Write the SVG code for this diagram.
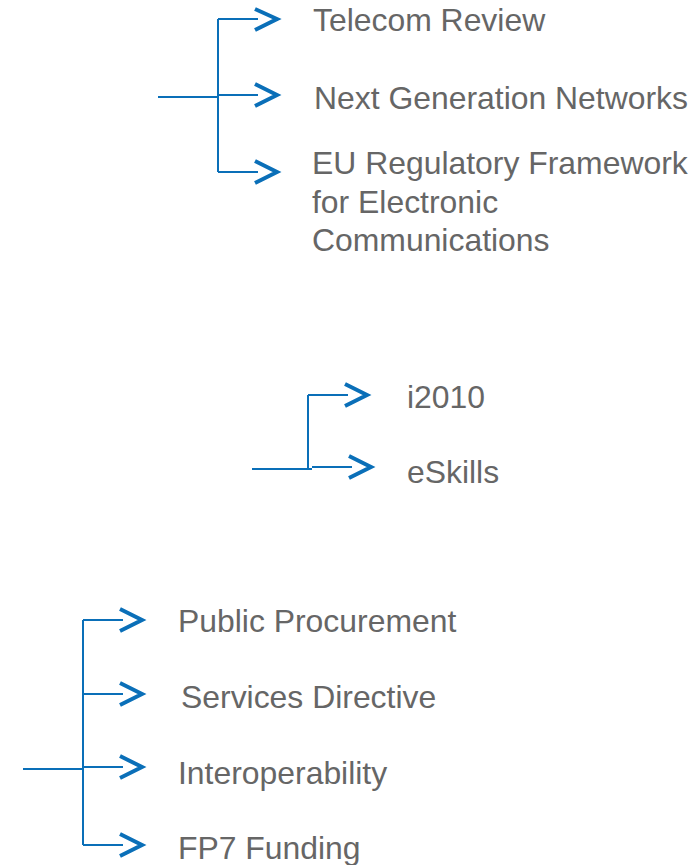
<svg xmlns="http://www.w3.org/2000/svg" width="699" height="865" viewBox="0 0 699 865">
<style>
.ln{fill:none;stroke:#0a6fb8;stroke-width:2}
.ch{fill:none;stroke:#0a6fb8;stroke-width:4;stroke-linecap:butt;stroke-linejoin:miter}
.t{font-family:"Liberation Sans",Arial,sans-serif;font-size:31.9px;fill:#666666}
</style>
<rect width="699" height="865" fill="#ffffff"/>
<g id="connectors">
<path class="ln" d="M158 97H218M218 19V172M218 19H258M218 95H258M218 172H258"/>
<path class="ch" d="M255 9L277 19L255 30M255 84L277 95L255 106M255 161L277 172L255 183"/>
<path class="ln" d="M252 469H312M308 395V469M308 395H348M312 467H352"/>
<path class="ch" d="M345 384L367 395L345 406M349 456L371 467L349 478"/>
<path class="ln" d="M23 769H83M83 620V845M83 620H123M83 694H123M83 767H123M83 845H123"/>
<path class="ch" d="M120 609L142 620L120 631M120 683L142 694L120 705M120 756L142 767L120 778M120 834L142 845L120 856"/>
</g>
<g id="telecom-review"><text class="t" x="313" y="31">Telecom Review</text></g>
<g id="next-generation-networks"><text class="t" x="314" y="109">Next Generation Networks</text></g>
<g id="eu-regulatory-framework"><text class="t" x="312" y="174">EU Regulatory Framework</text><text class="t" x="312" y="213">for Electronic</text><text class="t" x="312" y="251">Communications</text></g>
<g id="i2010"><text class="t" x="407" y="408">i2010</text></g>
<g id="eskills"><text class="t" x="407" y="483">eSkills</text></g>
<g id="public-procurement"><text class="t" x="178" y="632">Public Procurement</text></g>
<g id="services-directive"><text class="t" x="181" y="708">Services Directive</text></g>
<g id="interoperability"><text class="t" x="178" y="784">Interoperability</text></g>
<g id="fp7-funding"><text class="t" x="178" y="859">FP7 Funding</text></g>
</svg>
